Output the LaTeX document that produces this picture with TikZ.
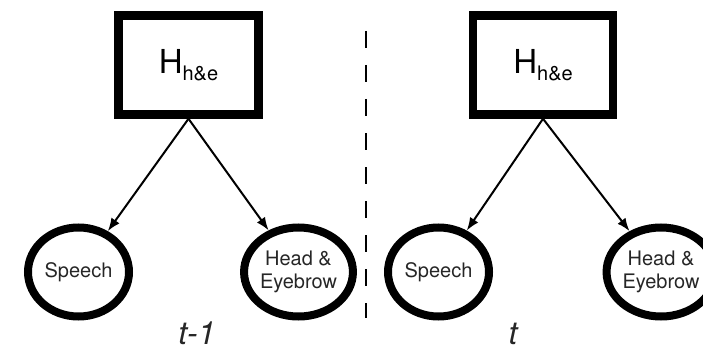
\documentclass[tikz,border=0pt]{standalone}
\usepackage{fontspec}
\setmainfont{TeX Gyre Heros}
\usetikzlibrary{shapes.geometric,arrows.meta}

\tikzset{
  hidbox/.style={draw,line width=8.5pt,minimum width=140pt,minimum height=99pt,
    inner sep=0pt,font=\fontsize{33}{33}\selectfont},
  obsnode/.style={draw,ellipse,line width=8pt,minimum width=101pt,minimum height=89pt,
    inner sep=0pt,align=center,text=black!85,font=\fontsize{20}{23}\selectfont},
  edge/.style={line width=2pt,-{Latex[length=13pt,width=10pt]}},
  steplabel/.style={anchor=base,text=black!85,font=\fontsize{32}{32}\selectfont\itshape},
  divider/.style={line width=2.5pt,dash pattern=on 17pt off 17pt}
}

% one time slice: hidden state box over its two observed nodes
\newcommand{\timeslice}[6]{%
  \node[hidbox] (#1box) at (#2,65) {H{\fontsize{20}{20}\selectfont\raisebox{-7pt}{h\&e}}};
  \node[obsnode] (#1sp) at (#3,272) {Speech};
  \node[obsnode] (#1he) at (#4,272) {Head \&\\Eyebrow};
  \draw[edge] (#1box.south) -- (#1sp);
  \draw[edge] (#1box.south) -- (#1he);
  \node[steplabel] (#1lab) at (#5,344) {#6};
}

\begin{document}
\begin{tikzpicture}[x=1pt,y=-1pt]
  \useasboundingbox (0,0) rectangle (703,350);
  \timeslice{prev}{188.5}{78.5}{298.5}{197}{t-1}
  \timeslice{cur}{543}{438.5}{661}{513}{t}
  % boundary between the two slices
  \coordinate (divtop) at (366,31);
  \coordinate (divbot) at (366,318);
  \draw[divider] (divtop) -- (divbot);
\end{tikzpicture}
\end{document}
